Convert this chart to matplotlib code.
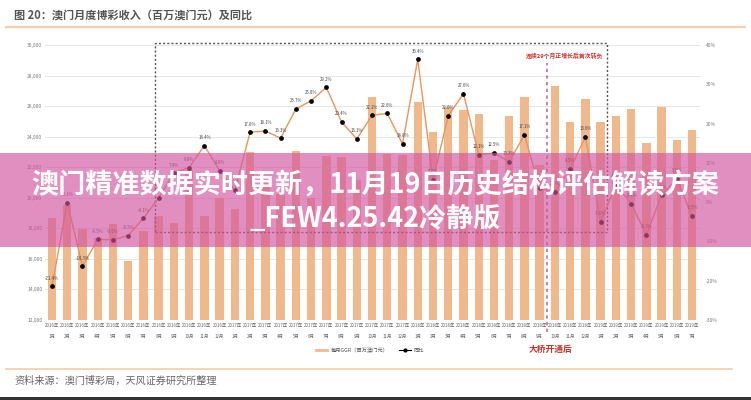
import matplotlib
matplotlib.use("Agg")
import matplotlib.pyplot as plt
from matplotlib.lines import Line2D
from matplotlib.patches import Rectangle

plt.rcParams['font.family'] = ['Noto Sans CJK SC', 'DejaVu Sans']

# ---------------- data ----------------
years = [2016] * 12 + [2017] * 12 + [2018] * 12 + [2019] * 7
months = list(range(1, 13)) * 3 + list(range(1, 8))
ggr = [18676, 19521, 17981, 17400, 18290, 15881, 17817, 18838, 18336, 21847, 18777, 19958,
       19255, 22991, 21174, 20236, 23054, 19990, 22717, 22676, 21194, 26627, 22860, 22800,
       26260, 24314, 25950, 25728, 25490, 22490, 25327, 26600, 22138, 27329, 24974, 26471,
       24942, 25370, 25840, 23588, 25952, 23812, 24453]
yoy = [-21.4, -0.1, -16.3, -9.5, -9.6, -8.5, -4.1, 1.1, 7.4, 8.8, 14.4, 8.0,
       3.1, 17.8, 18.1, 16.3, 23.7, 25.8, 29.2, 20.4, 16.1, 22.1, 22.6, 14.8,
       36.4, 5.7, 22.0, 27.6, 12.1, 12.5, 10.3, 17.1, 3.6, 2.6, 8.5, 16.6,
       -5.0, 4.4, -0.4, -8.3, 1.8, 5.9, -3.5]
left_ticks = [12000, 14000, 16000, 18000, 20000, 22000, 24000, 26000, 28000, 30000]
right_ticks = [-30, -20, -10, 0, 10, 20, 30, 40]
tick_labels = [f"{y}年\n{m}月" for y, m in zip(years, months)]

title = "图 20：澳门月度博彩收入（百万澳门元）及同比"
source = "资料来源：澳门博彩局，天风证券研究所整理"
legend_labels = ["每月GGR（百万澳门元）", "同比"]
note_top = "连续29个月正增长后首次转负"
note_bottom = "大桥开通后"
banner_line1 = "澳门精准数据实时更新，11月19日历史结构评估解读方案"
banner_line2 = "_FEW4.25.42冷静版"

# ---------------- figure ----------------
W, H = 751, 400
fig = plt.figure(figsize=(W / 100, H / 100), dpi=100)
fig.patch.set_facecolor("white")

ax = fig.add_axes([45 / W, 80 / H, 655 / W, 275 / H])
x = list(range(len(ggr)))
bar_color = "#f0b98b"
ax.bar(x, ggr, width=0.55, color=bar_color, zorder=2)
ax.set_ylim(12000, 30000)
ax.set_xlim(-0.46, 42.52)
ax.set_yticks(left_ticks)
ax.set_yticklabels([f"{v:,}" for v in left_ticks], fontsize=3.5, color="#777")
ax.set_xticks(x)
ax.set_xticklabels(tick_labels, fontsize=3.2, color="#666", linespacing=2.6)
ax.tick_params(axis="both", length=0, pad=2)
ax.grid(axis="y", color="#e6e6e6", linewidth=0.7, zorder=0)
for s in ax.spines.values():
    s.set_visible(False)

ax2 = ax.twinx()
ax2.set_ylim(-30, 40)
ax2.set_yticks(right_ticks)
ax2.set_yticklabels([f"{v}%" for v in right_ticks], fontsize=3.5, color="#777")
ax2.tick_params(axis="y", length=0, pad=4)
for s in ax2.spines.values():
    s.set_visible(False)
line_color = "#e8955a"
ax2.plot(x, yoy, color=line_color, linewidth=1.0, zorder=3)
ax2.plot(x, yoy, linestyle="none", marker="o", markersize=2.4, color="black", zorder=4)
for xi, v in zip(x, yoy):
    ax2.annotate(f"{v:.1f}%", (xi, v), xytext=(0, 4), textcoords="offset points",
                 ha="center", va="bottom", fontsize=3.1, color="#444", zorder=5)

# dotted rectangle
ax.add_patch(Rectangle((6.76, 17750), 36.42 - 6.76, 30100 - 17750, fill=False,
                       edgecolor="#555", linewidth=1.0, linestyle=(0, (1.5, 1.5)),
                       zorder=6, clip_on=False))
# bridge line
ax.axvline(32.46, ymin=-0.045, ymax=0.935, color="#cc6a9c", linewidth=1.2,
           linestyle=(0, (2, 2)), clip_on=False, zorder=6)
ax.text(36.2, 29320, note_top, ha="right", va="center", fontsize=4.2,
        color="#c8322b", fontweight="bold", zorder=7)
fig.text(551 / W, 1 - 349 / H, note_bottom, ha="center", va="center", fontsize=6.3,
         color="#c8322b", fontweight="bold")

# legend
handles = [Line2D([0], [0], color=bar_color, linewidth=2.0),
           Line2D([0], [0], color="black", linewidth=0.8, marker="o", markersize=2)]
fig.legend(handles, legend_labels, loc="center", bbox_to_anchor=(370 / W, 1 - 350 / H),
           ncol=2, frameon=False, fontsize=3.8, handlelength=2.2, columnspacing=2.0,
           handletextpad=0.6, labelcolor="#555")

# title / source / separators
fig.text(14 / W, 1 - 15 / H, title, ha="left", va="center", fontsize=8,
         color="#555", fontweight="bold")
fig.add_artist(Line2D([6 / W, 745 / W], [1 - 27 / H, 1 - 27 / H], color="#f5cda8",
                      linewidth=1.5))
fig.add_artist(Line2D([6 / W, 732 / W], [1 - 369 / H, 1 - 369 / H], color="#f5cda8",
                      linewidth=1.2))
fig.text(14 / W, 1 - 381 / H, source, ha="left", va="center", fontsize=7.3, color="#666")
fig.add_artist(Rectangle((0, 0), 1, 3 / H, transform=fig.transFigure,
                         facecolor="#333", edgecolor="none"))

# banner overlay
fig.add_artist(Rectangle((0, 1 - 246.5 / H), 1, 94 / H, transform=fig.transFigure,
                         facecolor="#d2549e", alpha=0.65, edgecolor="none", zorder=20))
fig.text(375 / W, 1 - 186 / H, banner_line1, ha="center", va="center", fontsize=19.5,
         color="white", fontweight="bold", zorder=21)
fig.text(375 / W, 1 - 219 / H, banner_line2, ha="center", va="center", fontsize=19.5,
         color="white", fontweight="bold", zorder=21)

fig.savefig("out.png", dpi=100, facecolor="white")
